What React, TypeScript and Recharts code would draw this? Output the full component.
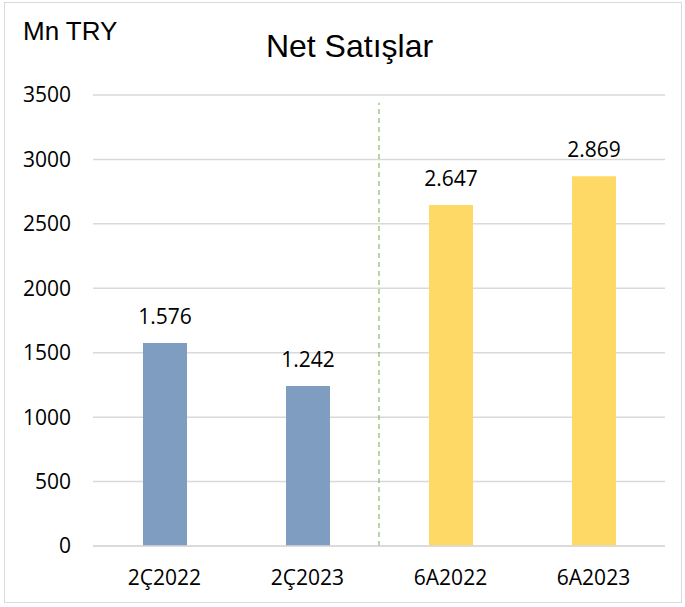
import React from 'react';
import { BarChart, Bar, XAxis, YAxis, CartesianGrid, LabelList, Cell, ReferenceLine } from 'recharts';

const categories = ['2Ç2022', '2Ç2023', '6A2022', '6A2023'];
const netSales = [1576, 1242, 2647, 2869];
const barColors = ['#7F9DC1', '#7F9DC1', '#FFD966', '#FFD966'];
const yTicks = [0, 500, 1000, 1500, 2000, 2500, 3000, 3500];
const dividerCategory = '6A2022';
const dividerTop = 3440;

const data = categories.map((name, i) => ({ name, value: netSales[i] }));

const fmt = (v: number) => v.toLocaleString('de-DE');

const labelFont = { fill: '#000', fontSize: 21, fontFamily: '"Open Sans", sans-serif' };

export default function App() {
  return (
    <div style={{ position: 'absolute', left: 0, top: 0, width: 685, height: 607, background: '#fff' }}>
      <div
        style={{
          position: 'absolute',
          left: 4,
          top: 2,
          width: 678,
          height: 601,
          border: '1px solid #D9D9D9',
          boxSizing: 'border-box',
        }}
      />
      <div
        style={{
          position: 'absolute',
          left: 23,
          top: 16,
          lineHeight: 'normal',
          fontFamily: '"Liberation Sans", Arial, sans-serif',
          fontSize: 26,
          color: '#000',
          whiteSpace: 'nowrap',
        }}
      >
        Mn TRY
      </div>
      <div
        style={{
          position: 'absolute',
          left: 0,
          width: 699,
          top: 28,
          lineHeight: 'normal',
          textAlign: 'center',
          fontFamily: '"Liberation Sans", Arial, sans-serif',
          fontSize: 32,
          color: '#000',
        }}
      >
        Net Satışlar
      </div>
      <div style={{ position: 'absolute', left: 0, top: 0 }}>
        <BarChart
          width={685}
          height={607}
          data={data}
          margin={{ top: 95, right: 20, bottom: 21, left: 0 }}
        >
          <CartesianGrid vertical={false} stroke="#D9D9D9" strokeWidth={1.5} />
          <XAxis
            dataKey="name"
            height={40}
            axisLine={{ stroke: '#D9D9D9', strokeWidth: 1.5 }}
            tickLine={false}
            tickMargin={18}
            tick={labelFont}
          />
          <YAxis
            width={93}
            domain={[0, 3500]}
            ticks={yTicks}
            axisLine={false}
            tickLine={false}
            tickMargin={16}
            tick={labelFont}
          />
          <ReferenceLine
            segment={[
              { x: dividerCategory, y: 0 },
              { x: dividerCategory, y: dividerTop },
            ]}
            position="start"
            stroke="#70AD47"
            strokeDasharray="5 4"
          />
          <Bar dataKey="value" barSize={44} isAnimationActive={false}>
            {data.map((d, i) => (
              <Cell key={d.name} fill={barColors[i]} />
            ))}
            <LabelList
              dataKey="value"
              position="top"
              offset={19}
              formatter={(v: any) => fmt(Number(v))}
              style={labelFont}
            />
          </Bar>
        </BarChart>
      </div>
    </div>
  );
}
